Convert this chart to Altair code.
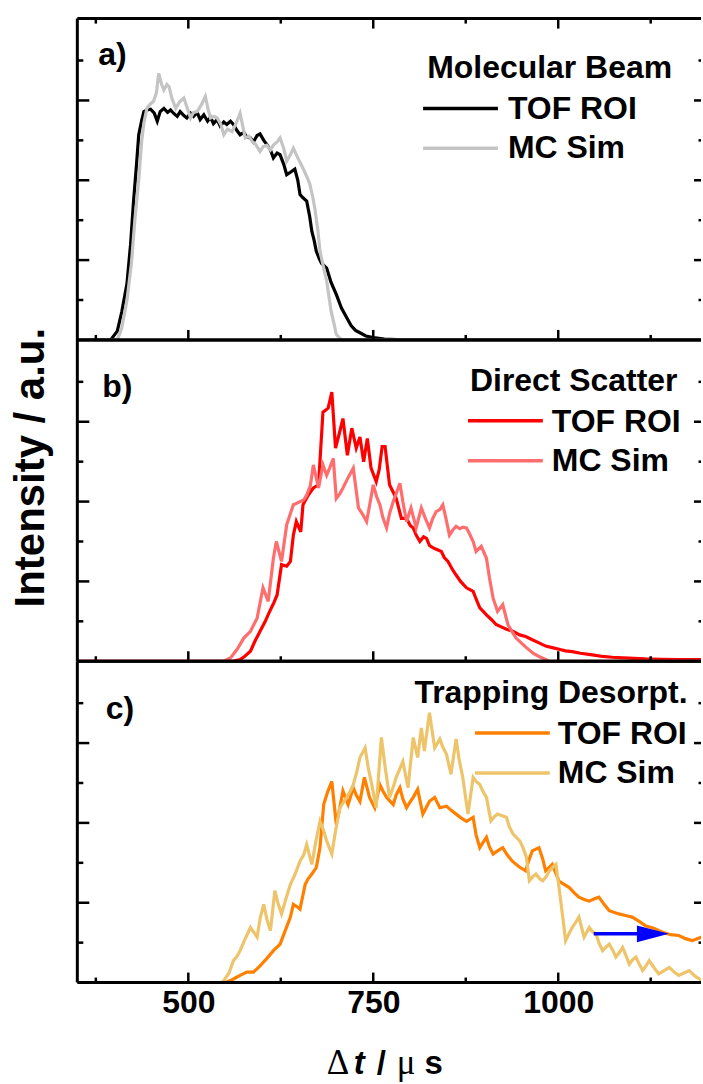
import altair as alt
import pandas as pd

FONT = "Liberation Sans"
SERIF = "Liberation Serif"
W, H = 625, 322
X_DOMAIN = [350, 1193]
Y_DOMAIN = [0, 4.025]

X_MAJOR = [500, 750, 1000]
X_MINOR = [375, 625, 875, 1125]
Y_MAJOR = [1, 2, 3]
Y_MINOR = [0.5, 1.5, 2.5, 3.5]

SERIES_NAMES = ["TOF ROI", "MC Sim"]
PANEL_LABELS = ["a)", "b)", "c)"]
PANEL_TITLES = ["Molecular Beam", "Direct Scatter", "Trapping Desorpt."]
COLORS_TOF = ["#000000", "#ff0000", "#ff8000"]
COLORS_MC = ["#c4c4c4", "#ff6e6e", "#eec46a"]
Y_TITLE = "Intensity / a.u."
# x-axis title "Δt / μs", written in pieces with their own styles
X_TITLE_PARTS = ["\u0394", "t", "/", "\u03bc", "s"]

# ---- panel a : molecular beam (t in us, intensity in a.u.)
A_TOF = [(350, 0), (395, 0), (404, 0.11), (410, 0.35), (417, 0.7), (422, 1.2), (426, 1.74), (430, 2.2),
         (433, 2.57), (437, 2.75), (440, 2.86), (444, 2.88), (449, 2.89), (454, 2.84), (458, 2.74),
         (462, 2.86), (467, 2.9), (472, 2.85), (476, 2.88), (480, 2.84), (485, 2.8), (489, 2.86),
         (494, 2.81), (498, 2.78), (503, 2.84), (507, 2.8), (512, 2.85), (516, 2.76), (521, 2.82),
         (526, 2.74), (530, 2.79), (534, 2.71), (539, 2.76), (543, 2.68), (548, 2.73), (552, 2.7),
         (557, 2.74), (561, 2.7), (566, 2.62), (570, 2.57), (575, 2.6), (579, 2.54), (584, 2.53),
         (588, 2.48), (593, 2.56), (597, 2.58), (602, 2.5), (606, 2.45), (611, 2.38), (615, 2.28),
         (620, 2.34), (624, 2.32), (629, 2.2), (633, 2.07), (638, 2.1), (644, 2.14), (648, 2.0),
         (651, 1.82), (655, 1.78), (660, 1.74), (664, 1.55), (667, 1.36), (670, 1.25), (673, 1.11),
         (677, 1.02), (680, 0.96), (687, 0.9), (693, 0.72), (700, 0.57), (707, 0.4), (714, 0.28),
         (720, 0.18), (726, 0.12), (732, 0.09), (740, 0.05), (750, 0.03), (765, 0.01), (790, 0), (1200, 0)]
A_MC = [(350, 0), (404, 0), (410, 0.15), (417, 0.49), (423, 0.95), (428, 1.53), (433, 2.0), (437, 2.49),
        (440, 2.72), (444, 2.9), (448, 2.95), (453, 2.99), (457, 3.1), (460, 3.34), (464, 3.2), (467, 3.13),
        (471, 3.2), (474, 3.17), (478, 3.02), (483, 2.9), (488, 2.98), (494, 3.03), (498, 2.92), (503, 2.78),
        (507, 2.85), (512, 2.86), (518, 2.95), (523, 3.05), (527, 2.88), (530, 2.78), (535, 2.8), (539, 2.78),
        (544, 2.7), (548, 2.57), (553, 2.64), (559, 2.61), (564, 2.7), (570, 2.84), (574, 2.66), (577, 2.53),
        (582, 2.55), (586, 2.49), (591, 2.45), (597, 2.36), (601, 2.42), (606, 2.44), (611, 2.38), (615, 2.44),
        (620, 2.48), (624, 2.53), (629, 2.4), (633, 2.24), (638, 2.32), (642, 2.4), (648, 2.28), (655, 2.15),
        (660, 2.05), (664, 1.96), (668, 1.8), (671, 1.65), (675, 1.38), (678, 1.11), (683, 0.9), (687, 0.74),
        (690, 0.55), (693, 0.36), (697, 0.2), (700, 0.07), (705, 0.02), (709, 0), (1200, 0)]

# ---- panel b : direct scatter
B_TOF = [(350, 0), (560, 0), (570, 0.02), (576, 0.06), (584, 0.125), (590, 0.25), (597, 0.375), (604, 0.5),
         (610, 0.625), (615, 0.72), (620, 0.83), (626, 1.21), (633, 1.19), (638, 1.25), (642, 1.58),
         (646, 1.75), (652, 1.62), (655, 1.96), (662, 2.08), (669, 2.17), (676, 2.21), (682, 3.12),
         (689, 3.17), (694, 3.37), (699, 2.67), (704, 2.85), (709, 3.04), (715, 2.58), (721, 2.92),
         (727, 2.67), (732, 2.81), (737, 2.5), (742, 2.79), (747, 2.42), (754, 2.25), (758, 2.4),
         (762, 2.69), (766, 2.69), (772, 2.21), (781, 2.04), (788, 1.79), (795, 1.79), (800, 1.7),
         (804, 1.67), (808, 1.58), (813, 1.5), (818, 1.56), (822, 1.54), (826, 1.45), (831, 1.42),
         (836, 1.4), (842, 1.375), (846, 1.3), (851, 1.25), (857, 1.15), (862, 1.08), (868, 1.0),
         (876, 0.92), (880, 0.9), (885, 0.875), (889, 0.78), (894, 0.67), (898, 0.63), (903, 0.58),
         (910, 0.52), (916, 0.46), (923, 0.43), (930, 0.4), (938, 0.38), (948, 0.33), (956, 0.31),
         (965, 0.27), (974, 0.23), (983, 0.19), (992, 0.17), (1001, 0.15), (1010, 0.13), (1019, 0.12),
         (1030, 0.1), (1046, 0.08), (1060, 0.06), (1073, 0.05), (1095, 0.04), (1118, 0.03), (1140, 0.025),
         (1163, 0.02), (1200, 0.02)]
B_MC = [(350, 0), (547, 0), (557, 0.04), (566, 0.15), (575, 0.29), (584, 0.375), (593, 0.54), (601, 0.92),
        (608, 0.75), (615, 1.29), (619, 1.5), (626, 1.25), (633, 1.71), (638, 1.85), (642, 1.96), (647, 1.98),
        (651, 2.0), (656, 2.02), (660, 2.08), (665, 2.2), (669, 2.46), (676, 2.17), (682, 2.46), (687, 2.33),
        (691, 2.42), (696, 2.54), (700, 2.04), (705, 2.1), (709, 2.17), (716, 2.3), (723, 2.42), (730, 1.92),
        (735, 1.85), (741, 1.75), (745, 1.95), (750, 2.21), (755, 2.05), (759, 1.96), (763, 1.8), (768, 1.67),
        (772, 1.85), (777, 2.0), (781, 2.1), (786, 2.23), (790, 2.0), (795, 1.75), (801, 1.92), (808, 1.67),
        (815, 1.92), (820, 1.8), (826, 1.67), (830, 1.78), (835, 1.875), (840, 1.9), (844, 1.96), (848, 1.8),
        (853, 1.58), (858, 1.65), (862, 1.69), (867, 1.66), (871, 1.68), (876, 1.67), (880, 1.6), (885, 1.5),
        (889, 1.375), (896, 1.44), (903, 1.29), (907, 1.05), (912, 0.79), (918, 0.625), (925, 0.71),
        (932, 0.46), (937, 0.38), (943, 0.29), (950, 0.23), (957, 0.17), (966, 0.1), (974, 0.06), (988, 0),
        (1200, 0)]

# ---- panel c : trapping desorption
C_TOF = [(350, 0), (550, 0), (557, 0.025), (564, 0.06), (570, 0.09), (579, 0.13), (588, 0.13), (597, 0.21),
         (606, 0.3), (615, 0.4), (624, 0.48), (631, 0.65), (638, 0.82), (642, 0.98), (647, 0.95), (651, 0.92),
         (658, 1.23), (662, 1.3), (667, 1.36), (673, 1.44), (678, 1.69), (683, 2.23), (688, 2.38),
         (694, 2.52), (700, 1.98), (705, 2.2), (709, 2.4), (716, 2.23), (723, 2.44), (727, 2.35),
         (732, 2.27), (738, 2.57), (745, 2.32), (752, 2.19), (759, 2.48), (763, 2.4), (768, 2.32),
         (772, 2.28), (777, 2.23), (781, 2.35), (786, 2.44), (790, 2.3), (795, 2.19), (799, 2.25),
         (804, 2.32), (810, 2.42), (817, 2.11), (822, 2.2), (826, 2.27), (833, 2.32), (840, 2.19),
         (849, 2.21), (855, 2.16), (862, 2.11), (869, 2.06), (876, 2.02), (885, 2.07), (889, 1.85),
         (894, 1.69), (898, 1.75), (903, 1.82), (907, 1.7), (912, 1.61), (918, 1.65), (925, 1.69),
         (931, 1.6), (938, 1.52), (947, 1.45), (956, 1.4), (961, 1.55), (965, 1.65), (974, 1.69),
         (979, 1.55), (983, 1.4), (992, 1.48), (1001, 1.27), (1008, 1.23), (1015, 1.19), (1022, 1.12),
         (1028, 1.07), (1035, 1.04), (1042, 1.02), (1049, 1.05), (1055, 1.07), (1062, 0.98), (1069, 0.9),
         (1075, 0.88), (1082, 0.86), (1091, 0.84), (1100, 0.82), (1109, 0.77), (1118, 0.71), (1129, 0.68),
         (1141, 0.63), (1152, 0.6), (1163, 0.59), (1172, 0.55), (1181, 0.525), (1188, 0.55), (1194, 0.57),
         (1200, 0.55)]
C_MC = [(350, 0), (545, 0), (548, 0.025), (555, 0.12), (561, 0.275), (566, 0.33), (570, 0.4), (577, 0.55),
        (584, 0.69), (593, 0.57), (597, 0.8), (602, 0.98), (606, 0.8), (611, 0.65), (617, 1.15), (621, 1.0),
        (626, 0.86), (632, 1.05), (638, 1.23), (644, 1.35), (651, 1.52), (656, 1.6), (660, 1.73), (667, 1.48),
        (672, 1.75), (678, 2.02), (683, 1.9), (687, 1.775), (694, 1.61), (699, 1.9), (705, 2.19), (714, 2.32),
        (719, 2.4), (723, 2.48), (728, 2.65), (732, 2.82), (739, 2.94), (743, 2.7), (748, 2.48), (754, 2.19),
        (761, 3.07), (766, 2.7), (772, 2.32), (777, 2.45), (781, 2.57), (786, 2.68), (790, 2.77), (797, 2.44),
        (804, 3.07), (810, 2.82), (815, 3.19), (819, 2.9), (826, 3.38), (833, 2.94), (840, 3.05), (844, 2.95),
        (849, 2.86), (855, 2.61), (862, 3.05), (866, 2.8), (871, 2.57), (878, 2.11), (885, 2.57), (889, 2.52),
        (894, 2.48), (898, 2.4), (903, 2.32), (909, 2.025), (914, 2.08), (918, 2.11), (924, 2.09), (930, 2.07),
        (934, 1.95), (939, 1.86), (948, 1.775), (952, 1.7), (957, 1.57), (961, 1.275), (966, 1.33), (970, 1.36),
        (975, 1.3), (979, 1.275), (984, 1.33), (988, 1.4), (993, 1.45), (997, 1.48), (1004, 0.98),
        (1010, 0.525), (1015, 0.62), (1019, 0.69), (1024, 0.76), (1028, 0.82), (1035, 0.57), (1042, 0.69),
        (1046, 0.64), (1051, 0.61), (1055, 0.5), (1060, 0.4), (1065, 0.45), (1069, 0.48), (1074, 0.4),
        (1078, 0.32), (1083, 0.38), (1087, 0.44), (1092, 0.33), (1096, 0.23), (1100, 0.28), (1105, 0.32),
        (1109, 0.24), (1114, 0.15), (1118, 0.2), (1123, 0.275), (1130, 0.18), (1136, 0.11), (1143, 0.15),
        (1150, 0.19), (1157, 0.13), (1163, 0.09), (1170, 0.12), (1177, 0.15), (1185, 0.08), (1194, 0.025),
        (1200, 0.02)]

# blue arrow in panel c (time-shift annotation)
ARROW_T = [1048, 1112]
ARROW_HEAD_T = [1128]
ARROW_V = 0.61

xs = alt.Scale(domain=X_DOMAIN, nice=False, zero=False)
ys = alt.Scale(domain=Y_DOMAIN, nice=False, zero=False)


def df_of(pairs):
    return pd.DataFrame(pairs, columns=["t", "v"])


def line_layer(pairs, color, xaxis):
    return alt.Chart(df_of(pairs)).mark_line(color=color, strokeWidth=3.2, clip=True).encode(
        x=alt.X("t:Q", scale=xs, axis=xaxis),
        y=alt.Y("v:Q", scale=ys, axis=None),
    )


def xtick_layer(vals, y0, y1, xaxis):
    return alt.Chart(pd.DataFrame({"t": vals})).mark_rule(color="black", strokeWidth=2.5).encode(
        x=alt.X("t:Q", scale=xs, axis=xaxis), y=alt.value(y0), y2=alt.value(y1))


def ytick_layer(vals, x0, x1):
    return alt.Chart(pd.DataFrame({"v": vals})).mark_rule(color="black", strokeWidth=2.5).encode(
        y=alt.Y("v:Q", scale=ys, axis=None), x=alt.value(x0), x2=alt.value(x1))


def frame_rule(x0, x1, y0, y1):
    return alt.Chart(pd.DataFrame({"s": [0]})).mark_rule(color="black", strokeWidth=3).encode(
        x=alt.value(x0), x2=alt.value(x1), y=alt.value(y0), y2=alt.value(y1))


def text_layer(s, x, y, size=32, align="left", angle=0, font=FONT, weight="bold", style="normal"):
    return alt.Chart(pd.DataFrame({"s": [s]})).mark_text(
        font=font, fontWeight=weight, fontStyle=style, fontSize=size, align=align,
        baseline="alphabetic", color="black", angle=angle).encode(
        text="s:N", x=alt.value(x), y=alt.value(y))


def legend_line(color, x0, x1, y):
    return alt.Chart(pd.DataFrame({"s": [0]})).mark_rule(color=color, strokeWidth=3.5).encode(
        x=alt.value(x0), x2=alt.value(x1), y=alt.value(y))


def panel(i, tof, mc, label_xy, title_xy, leg, top_ticks=False, bottom_axis=False, extra=None):
    xaxis = None
    if bottom_axis:
        xaxis = alt.Axis(values=X_MAJOR, format="d", ticks=False, domain=False, grid=False,
                         labelFont=FONT, labelFontWeight="bold", labelFontSize=32, labelColor="black",
                         labelPadding=5, labelFlush=False, title=None)
    layers = [
        line_layer(tof, COLORS_TOF[i], xaxis),
        line_layer(mc, COLORS_MC[i], xaxis),
        xtick_layer(X_MAJOR, H, H - 10, xaxis),
        xtick_layer(X_MINOR, H, H - 5, xaxis),
        ytick_layer(Y_MAJOR, 0, 12),
        ytick_layer(Y_MINOR, 0, 6),
        ytick_layer(Y_MAJOR, W, W - 7),
        ytick_layer(Y_MINOR, W, W - 2.5),
        frame_rule(0, 0, 0, H),
        frame_rule(0, W, 0, 0),
        frame_rule(0, W, H, H),
    ]
    if top_ticks:
        layers += [xtick_layer(X_MAJOR, 0, 10, xaxis), xtick_layer(X_MINOR, 0, 5, xaxis)]
    lx0, lx1, ltx, ly1, ly2 = leg
    layers += [
        text_layer(PANEL_LABELS[i], label_xy[0], label_xy[1]),
        text_layer(PANEL_TITLES[i], title_xy[0], title_xy[1], align="right"),
        legend_line(COLORS_TOF[i], lx0, lx1, ly1),
        text_layer(SERIES_NAMES[0], ltx, ly1 + 11),
        legend_line(COLORS_MC[i], lx0, lx1, ly2),
        text_layer(SERIES_NAMES[1], ltx, ly2 + 10),
    ]
    if extra is not None:
        layers += extra(xaxis)
    return alt.layer(*layers).properties(width=W, height=H)


def bottom_extras(xaxis):
    line = alt.Chart(pd.DataFrame({"t": [ARROW_T[0]], "t2": [ARROW_T[1]], "v": [ARROW_V]})).mark_rule(
        color="#0000ff", strokeWidth=3.5).encode(
        x=alt.X("t:Q", scale=xs, axis=xaxis), x2="t2:Q", y=alt.Y("v:Q", scale=ys, axis=None))
    head = alt.Chart(pd.DataFrame({"t": ARROW_HEAD_T, "v": [ARROW_V]})).mark_point(
        shape="M -1 -0.53 L 1 0 L -1 0.53 Z", filled=True, size=1024, color="#0000ff", opacity=1,
        strokeWidth=0).encode(
        x=alt.X("t:Q", scale=xs, axis=xaxis), y=alt.Y("v:Q", scale=ys, axis=None))
    base = H + 92
    title = [
        text_layer(X_TITLE_PARTS[0], 250, base, size=35, font=SERIF, weight="normal"),
        text_layer(X_TITLE_PARTS[1], 277, base, size=33, weight="bold", style="italic"),
        text_layer(X_TITLE_PARTS[2], 300, base, size=33, weight="bold"),
        text_layer(X_TITLE_PARTS[3], 320, base, size=35, font=SERIF, weight="normal"),
        text_layer(X_TITLE_PARTS[4], 348, base, size=33, weight="bold"),
    ]
    return [line, head] + title


def ytitle_layers(xaxis):
    return [text_layer(Y_TITLE, -33.5, 128, size=42, align="center", angle=270)]


pa = panel(0, A_TOF, A_MC, (21, 46), (596, 60), (346.5, 421.5, 431.5, 90, 130), top_ticks=True)
pb = panel(1, B_TOF, B_MC, (25, 57), (601.5, 51), (391.5, 466.5, 475.5, 81, 121), extra=ytitle_layers)
pc = panel(2, C_TOF, C_MC, (28.5, 58), (611.5, 42), (398.5, 473.5, 481.5, 72, 112), bottom_axis=True,
           extra=bottom_extras)

chart = alt.vconcat(pa, pb, pc, spacing=0, bounds="flush").properties(
    padding={"left": 9.5, "top": 15.5, "right": 0, "bottom": 0},
    background="white",
).configure_view(stroke="transparent", strokeWidth=0)

chart.save("out.html", embed_options={"renderer": "svg", "actions": False})
